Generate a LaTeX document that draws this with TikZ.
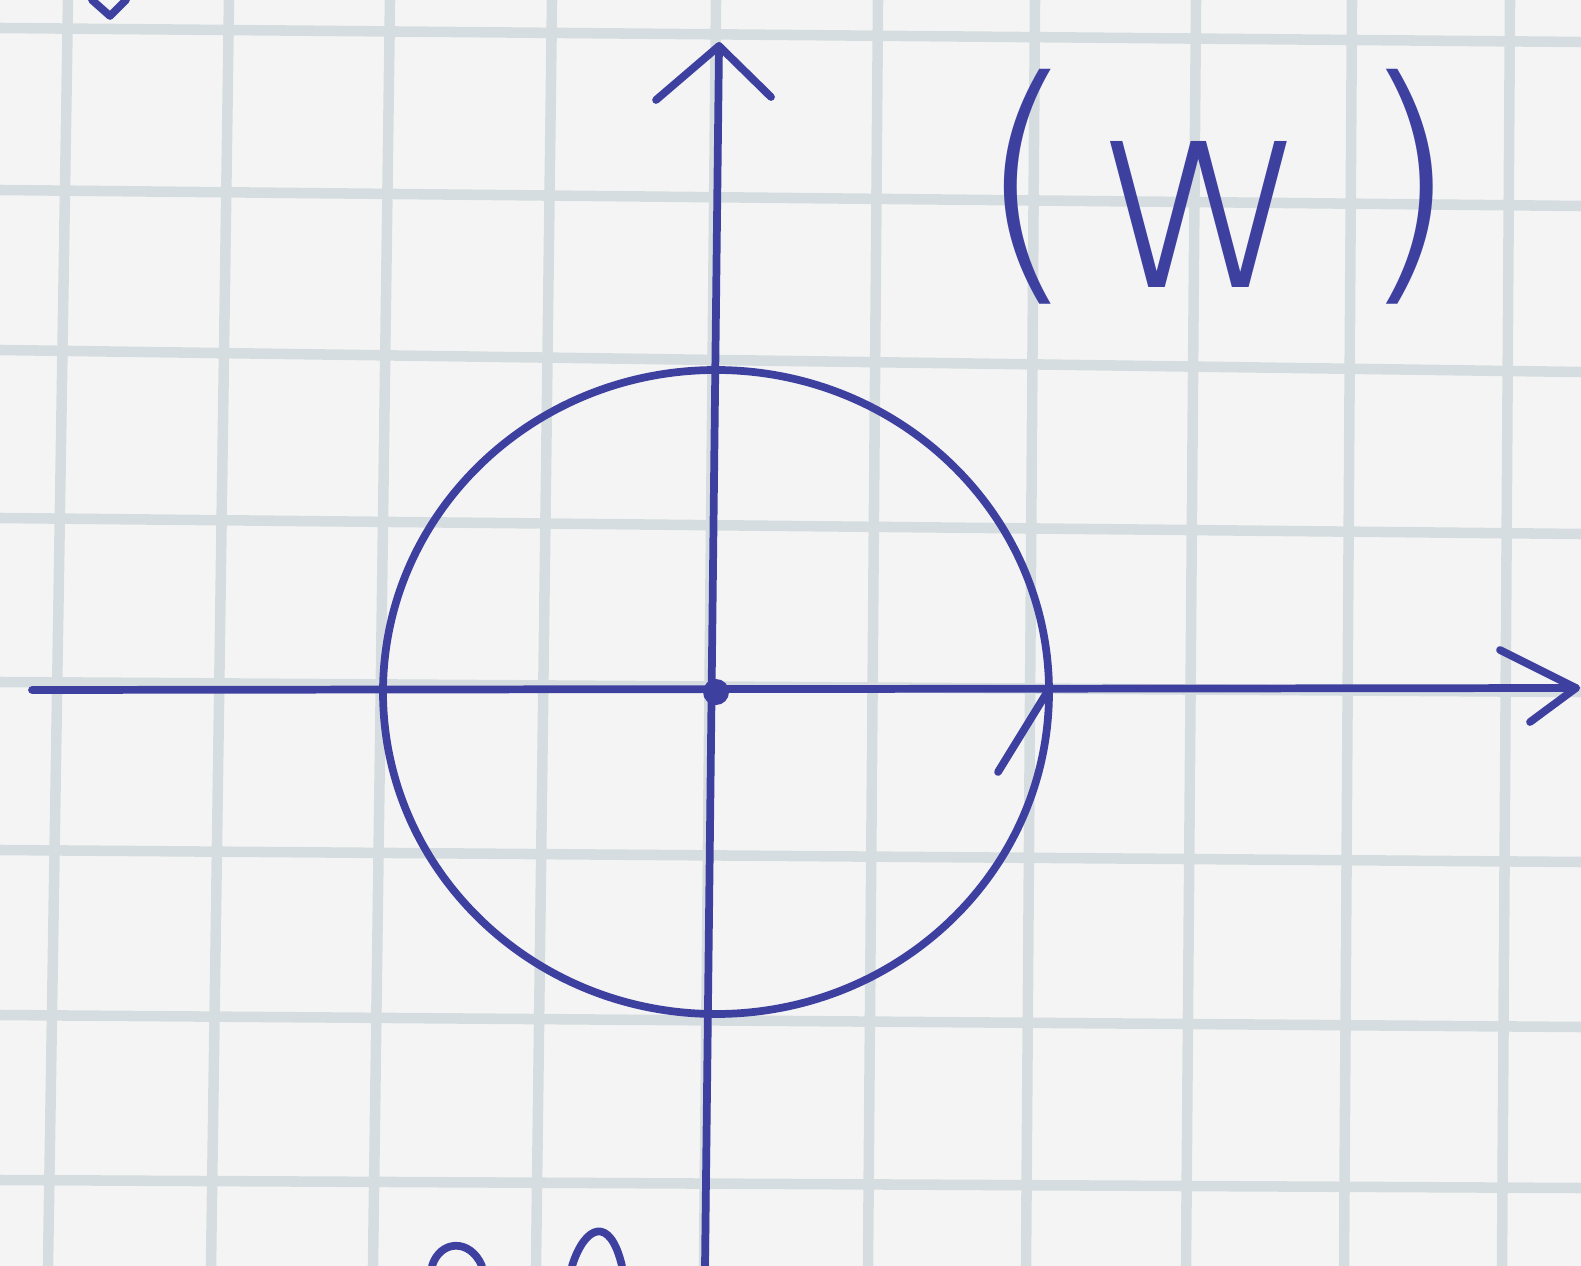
\documentclass[tikz,border=0pt]{standalone}
\usepackage{fontspec}
\newfontfamily\thinfont{DejaVu Sans ExtraLight}
\definecolor{pencol}{RGB}{62,64,160}
\definecolor{gridc}{RGB}{214,221,224}
\definecolor{paper}{RGB}{244,244,244}
\begin{document}
\begin{tikzpicture}[x=0.02cm,y=-0.02cm,
  pen/.style={draw=pencol,line width=4.4pt,line cap=round,line join=round},
  gridline/.style={draw=gridc,line width=6pt}]
\fill[paper] (0,0) rectangle (1581,1266);
\useasboundingbox (0,0) rectangle (1581,1266);
% grid
\foreach \xa/\xb in {68/48, 229/211, 390/373, 552/536, 716/704, 878/868, 1035/1026, 1196/1186, 1352/1344, 1510/1502}
  \draw[gridline] (\xa,0) -- (\xb,1266);
\foreach \ya/\yb in {28/42, 190/206, 350/372, 518/534, 682/692, 850/862, 1015/1027, 1180/1188}
  \draw[gridline] (0,\ya) -- (1581,\yb);
% axes
\coordinate (xl) at (32,690);
\coordinate (xr) at (1576,688);
\coordinate (yt) at (719,46);
\coordinate (yb) at (705,1266);
\coordinate (o) at (716,692);
\draw[pen] (xl) -- (xr);
\draw[pen] (1500,650) -- (xr) -- (1530,722);
\draw[pen] (yt) -- (yb);
\draw[pen] (656,100) -- (yt) -- (771,97);
% circle
\draw[pen] (o) ellipse [x radius=333, y radius=322];
\fill[fill=pencol] (o) circle [radius=13];
% arrow barb on circle
\coordinate (c0) at (1046,694);
\draw[pen] (998,772) -- (c0);
% label
\node[text=pencol, inner sep=0pt, anchor=base west] (lbl) at (975,270)
  {\thinfont\fontsize{150}{150}\selectfont(\hspace{0.06em}\raisebox{-0.35cm}{\fontsize{152}{152}\selectfont w}\hspace{0.17em})};
% fragments
\draw[pen] (92,0) -- (110,16) -- (126,0);
\draw[pen] (432,1266) .. controls (440,1240) and (470,1238) .. (482,1266);
\draw[pen] (572,1266) .. controls (585,1225) and (610,1215) .. (622,1266);
\end{tikzpicture}
\end{document}
